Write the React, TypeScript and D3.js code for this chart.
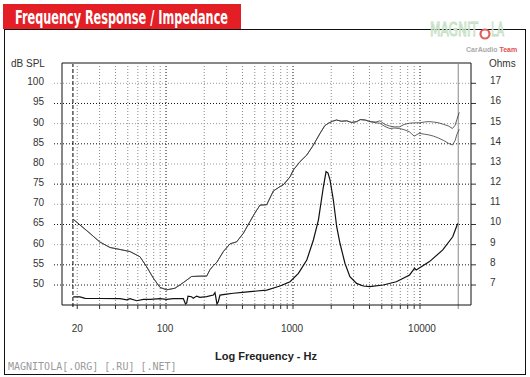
import React from 'react';
import * as d3 from 'd3';

// SPL (common part, Hz / dB)
const splFreq = [18.6, 21, 25.2, 30, 36.2, 43.5, 52, 62.4, 70.5, 79.5, 89.7, 101, 117.7, 137, 159, 185, 209, 222, 236, 251, 283, 319, 360, 406, 458, 500, 550, 621, 700, 790, 837, 948, 1006, 1137, 1283, 1448, 1633, 1780, 1899, 2050, 2203, 2400, 2644, 2900, 3177, 3384];
const splDb = [66.3, 64.9, 62.8, 60.7, 59.3, 58.8, 58.3, 57.0, 54.5, 51.7, 49.4, 48.8, 49.2, 50.6, 52.1, 52.2, 52.2, 53.8, 54.8, 55.6, 58.3, 60.2, 60.7, 62.8, 65.7, 67.8, 69.8, 69.9, 73.3, 74.4, 74.8, 76.8, 78.5, 80.6, 82.2, 84.7, 87.6, 89.5, 90.1, 90.6, 90.9, 90.6, 90.7, 90.3, 90.5, 91.0];
// SPL high-frequency split (two measurements)
const hfFreq = [3700, 4039, 4500, 4826, 5300, 5767, 6300, 6893, 7500, 8240, 9000, 9840, 10800, 11760, 12800, 14050, 15400, 16800, 18000, 18900, 19500, 20400];
const hfUpperDb = [90.9, 90.5, 90.4, 90.7, 89.8, 89.4, 89.2, 89.2, 89.8, 90.1, 90.2, 90.2, 90.4, 90.5, 90.4, 90.2, 89.8, 89.4, 88.8, 89.6, 91.0, 92.8];
const hfLowerDb = [90.9, 90.5, 90.2, 90.1, 89.3, 88.8, 88.9, 88.8, 88.5, 88.0, 86.9, 87.6, 87.4, 87.2, 86.9, 86.4, 85.8, 85.1, 84.7, 85.8, 87.3, 88.6];
// Impedance (Hz / Ohms)
const impFreq = [18.6, 21, 23.1, 30.2, 43.5, 49.1, 52.1, 58.8, 66.3, 74.8, 89.7, 101, 114, 137, 142.5, 145.6, 149, 159, 164, 174.4, 185, 209, 236, 243, 252, 258, 266, 300, 339, 400, 458, 621, 790, 948, 1103, 1284, 1447, 1585, 1735, 1821, 1888, 1958, 2080, 2208, 2343, 2564, 2806, 3167, 3569, 4025, 5122, 6513, 8282, 9065, 9341, 11880, 15110, 18100, 19800];
const impOhm = [6.41, 6.41, 6.34, 6.33, 6.32, 6.26, 6.32, 6.22, 6.29, 6.29, 6.32, 6.29, 6.32, 6.32, 6.06, 6.11, 6.45, 6.42, 6.34, 6.45, 6.39, 6.42, 6.5, 6.62, 6.06, 6.17, 6.5, 6.55, 6.59, 6.63, 6.67, 6.75, 6.95, 7.16, 7.58, 8.24, 9.23, 10.22, 11.87, 12.62, 12.55, 12.2, 11.2, 9.89, 9.07, 8.08, 7.41, 7.08, 6.95, 6.92, 7.0, 7.16, 7.5, 7.83, 7.74, 8.16, 8.74, 9.39, 10.05];

const dbTicks = [50, 55, 60, 65, 70, 75, 80, 85, 90, 95, 100];
const ohmTicks = [7, 8, 9, 10, 11, 12, 13, 14, 15, 16, 17];
const freqLabels = [20, 100, 1000, 10000];
const startMarkerHz = 18.5;
const endMarkerHz = 20000;

export default function App() {
  const L = 62, R = 471, T = 63, B = 305;
  const x = d3.scaleLog().domain([100, 10000]).range([166, 420]);
  const yDb = d3.scaleLinear().domain([50, 100]).range([285, 83.3]);
  const yOhm = d3.scaleLinear().domain([7, 17]).range([285, 83.3]);

  const gridFreqs: number[] = [];
  [10, 100, 1000].forEach((d) => {
    for (let k = 1; k <= 9; k++) {
      const f = d * k;
      if (f >= 20 && f <= 9000) gridFreqs.push(f);
    }
  });
  gridFreqs.push(10000);
  const isMajor = (f: number) => [100, 1000, 10000].includes(f);

  const lineDb = d3.line<[number, number]>().x((d) => x(d[0])).y((d) => yDb(d[1]));
  const lineOhm = d3.line<[number, number]>().x((d) => x(d[0])).y((d) => yOhm(d[1]));

  const common = splFreq.map((f, i) => [f, splDb[i]] as [number, number]);
  const upper = common.concat(hfFreq.map((f, i) => [f, hfUpperDb[i]] as [number, number]));
  const lower = common.concat(hfFreq.map((f, i) => [f, hfLowerDb[i]] as [number, number]));
  const imp = impFreq.map((f, i) => [f, impOhm[i]] as [number, number]);

  const font = "'Liberation Sans', Arial, sans-serif";
  const wmFont = "'DejaVu Sans Condensed', sans-serif";

  return (
    <svg width={530} height={377} style={{ position: 'absolute', left: 0, top: 0, background: '#fff' }} fontFamily={font}>
      <rect x={0} y={0} width={530} height={377} fill="#fff" />
      {/* title */}
      <rect x={3} y={4} width={238} height={25} fill="#e31e24" />
      <text x={15} y={23.5} fontSize={19} fontWeight="bold" fill="#fff" textLength={213} lengthAdjust="spacingAndGlyphs" fontFamily="'DejaVu Sans Condensed', 'Liberation Sans Narrow', sans-serif">Frequency Response / Impedance</text>
      {/* frame */}
      <rect x={4.5} y={29.5} width={521} height={345} fill="none" stroke="#111" strokeWidth={1} />
      {/* watermark */}
      <g transform="translate(430,36) scale(1,1.6)">
        <text x={0} y={0} fontSize={12} fill="#e4f2e4" stroke="#bcdcbc" strokeWidth={0.5} textLength={48} lengthAdjust="spacingAndGlyphs" fontFamily={wmFont}>MAGNIT</text>
      </g>
      <circle cx={485} cy={34} r={4.5} fill="none" stroke="#e06060" strokeWidth={2.2} />
      <g transform="translate(491,36) scale(1,1.6)">
        <text x={0} y={0} fontSize={12} fill="#e4f2e4" stroke="#bcdcbc" strokeWidth={0.5} textLength={13} lengthAdjust="spacingAndGlyphs" fontFamily={wmFont}>LA</text>
      </g>
      <text x={466} y={52} fontSize={7} fontWeight="bold" fill="#aaa">CarAudio <tspan fill="#e05050">Team</tspan></text>

      {/* horizontal grid */}
      {dbTicks.map((v) => (
        <line key={'h' + v} x1={54} x2={R} y1={yDb(v)} y2={yDb(v)} stroke={v % 10 === 5 || v === 50 ? '#111' : '#999'} strokeWidth={1} strokeDasharray="1,2" />
      ))}
      {ohmTicks.map((v) => (
        <line key={'rt' + v} x1={R} x2={476} y1={yOhm(v)} y2={yOhm(v)} stroke="#333" strokeWidth={1} />
      ))}
      {/* vertical grid */}
      {gridFreqs.map((f) => (
        <g key={'v' + f}>
          <line x1={x(f)} x2={x(f)} y1={T} y2={B} stroke={isMajor(f) ? '#111' : '#888'} strokeWidth={1} strokeDasharray="1,2" />
          <line x1={x(f)} x2={x(f)} y1={B} y2={B + 4} stroke="#333" strokeWidth={1} />
        </g>
      ))}
      <line x1={x(startMarkerHz)} x2={x(startMarkerHz)} y1={T} y2={B + 4} stroke="#000" strokeWidth={1} strokeDasharray="4,2" />
      <line x1={x(endMarkerHz)} x2={x(endMarkerHz)} y1={T} y2={B + 4} stroke="#888" strokeWidth={1} />

      {/* box */}
      <line x1={L} x2={R} y1={T} y2={T} stroke="#888" strokeWidth={2} />
      <line x1={L} x2={L} y1={T} y2={B} stroke="#111" strokeWidth={1} />
      <line x1={R} x2={R} y1={T} y2={B} stroke="#111" strokeWidth={1} />
      <line x1={L} x2={R} y1={B} y2={B} stroke="#111" strokeWidth={1} />

      {/* curves */}
      <path d={lineDb(lower) || ''} fill="none" stroke="#3a3a3a" strokeWidth={0.8} />
      <path d={lineDb(upper) || ''} fill="none" stroke="#3a3a3a" strokeWidth={0.8} />
      <path d={lineOhm(imp) || ''} fill="none" stroke="#111" strokeWidth={1.2} />

      {/* labels */}
      <text x={11} y={67} fontSize={10} fill="#333">dB SPL</text>
      {dbTicks.map((v) => (
        <text key={'dl' + v} x={44} y={yDb(v) + 2} fontSize={10} fill="#333" textAnchor="end">{v}</text>
      ))}
      <text x={489} y={67} fontSize={10} fill="#333">Ohms</text>
      {ohmTicks.map((v) => (
        <text key={'ol' + v} x={490} y={yOhm(v) + 1} fontSize={10} fill="#333">{v}</text>
      ))}
      {freqLabels.map((f) => (
        <text key={'fl' + f} x={x(f) + (f === 10000 ? 2 : f === 20 ? 0 : -1)} y={332} fontSize={10} fill="#333" textAnchor="middle">{f}</text>
      ))}
      <text x={266} y={360} fontSize={11} fontWeight="bold" fill="#222" textAnchor="middle">Log Frequency - Hz</text>
      <text x={8} y={370} fontSize={10} fill="#9a9a9a" fontFamily="'DejaVu Sans Mono', monospace">MAGNITOLA[.ORG] [.RU] [.NET]</text>
    </svg>
  );
}
